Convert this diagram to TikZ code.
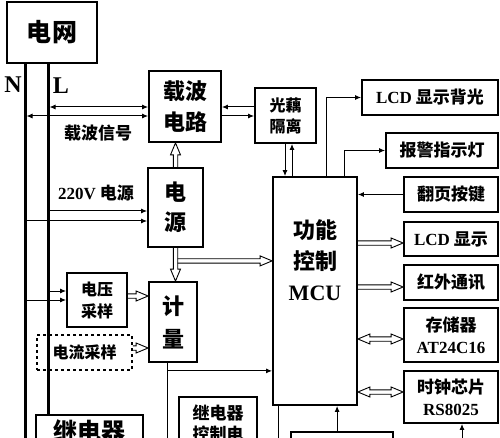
\documentclass[tikz,border=0pt]{standalone}
\usepackage{fontspec}
\setmainfont{Liberation Serif}
\newfontfamily\cjk{Noto Sans CJK SC}
\usetikzlibrary{arrows.meta,calc}
\newcommand\hollowarr[2]{%
  \coordinate (hS) at (#1); \coordinate (hE) at (#2);
  \coordinate (hH) at ($(hE)!12pt!(hS)$);
  \draw[harrow] ($(hS)!2.2pt!90:(hE)$) -- ($(hH)!2.2pt!-90:(hS)$) -- ($(hH)!5pt!-90:(hS)$) -- (hE) -- ($(hH)!5pt!90:(hS)$) -- ($(hH)!2.2pt!90:(hS)$) -- ($(hS)!2.2pt!-90:(hE)$);
}
\newcommand\hollowdbl[2]{%
  \coordinate (hS) at (#1); \coordinate (hE) at (#2);
  \coordinate (hH) at ($(hE)!12pt!(hS)$);
  \coordinate (hG) at ($(hS)!12pt!(hE)$);
  \draw[harrow] (hS) -- ($(hG)!5pt!90:(hE)$) -- ($(hG)!2.2pt!90:(hE)$) -- ($(hH)!2.2pt!-90:(hS)$) -- ($(hH)!5pt!-90:(hS)$) -- (hE) -- ($(hH)!5pt!90:(hS)$) -- ($(hH)!2.2pt!90:(hS)$) -- ($(hG)!2.2pt!-90:(hE)$) -- ($(hG)!5pt!-90:(hE)$) -- cycle;
}
\tikzset{
 box/.style={draw, line width=1.8pt, inner sep=0pt, align=center},
 conn/.style={line width=1pt, -{Latex[length=6pt,width=5pt]}},
 conn2/.style={line width=1pt, {Latex[length=6pt,width=5pt]}-{Latex[length=6pt,width=5pt]}},
 harrow/.style={line width=0.9pt, line join=miter},
 wire/.style={line width=3pt},
 fbig/.style={font=\fontsize{22}{31}\selectfont\cjk\bfseries},
 fmid/.style={font=\fontsize{17}{22}\selectfont\cjk\bfseries},
 fsml/.style={font=\fontsize{16}{21}\selectfont\cjk\bfseries},
}
\begin{document}
\begin{tikzpicture}[x=1pt,y=-1pt]
\useasboundingbox (0,0) rectangle (500,438);
\clip (0,0) rectangle (500,438);
% grid and wires
\node[box, line width=2.6pt, minimum width=90pt, minimum height=61pt, font=\fontsize{25}{30}\selectfont\cjk\bfseries] (grid) at (52,32.5) {电网};
\coordinate (Ntop) at (25,63);
\coordinate (Nbot) at (25,442);
\coordinate (Ltop) at (48,63);
\node[font=\fontsize{24}{24}\selectfont\bfseries] (Nlab) at (13,85) {N};
\node[font=\fontsize{24}{24}\selectfont\bfseries] (Llab) at (61,86) {L};
\node[box, anchor=north, minimum width=107pt, minimum height=60pt, label={[anchor=north, yshift=-2pt, font=\fontsize{24}{28}\selectfont\cjk\bfseries]north:继电器}] (relay) at (89.5,414) {};
\draw[wire] (Ntop) -- (Nbot);
\draw[wire] (Ltop) -- (Ltop |- relay.north);
% boxes
\node[box, minimum width=72pt, minimum height=71pt, fbig] (carrier) at (185,106.5) {载波\\电路};
\node[box, minimum width=61pt, minimum height=55pt, fsml] (opto) at (285.5,115.5) {光藕\\隔离};
\node[box, minimum width=136pt, minimum height=35pt, fmid] (lcdbl) at (430,97.5) {{\rmfamily LCD} 显示背光};
\node[box, minimum width=112pt, minimum height=35pt, fmid] (alarm) at (442,150.5) {报警指示灯};
\node[box, minimum width=94pt, minimum height=35pt, fmid] (page) at (451,194.5) {翻页按键};
\node[box, minimum width=94pt, minimum height=34pt, fmid] (lcd) at (451,239) {{\rmfamily LCD} 显示};
\node[box, minimum width=94pt, minimum height=35pt, fmid] (ir) at (451,282.5) {红外通讯};
\node[box, minimum width=94pt, minimum height=54pt, fmid] (mem) at (451,335) {存储器\\{\rmfamily AT24C16}};
\node[box, minimum width=94pt, minimum height=52pt, fmid] (clock) at (451,397) {时钟芯片\\{\rmfamily RS8025}};
\node[box, minimum width=84pt, minimum height=228pt, label={[fbig, align=center, yshift=31pt]center:{功能\\控制\\{\rmfamily MCU}}}] (mcu) at (315,291) {};
\node[box, minimum width=55pt, minimum height=79pt, font=\fontsize{22}{30}\selectfont\cjk\bfseries] (power) at (175.5,207.5) {电\\源};
\node[box, minimum width=48pt, minimum height=80pt, font=\fontsize{22}{33}\selectfont\cjk\bfseries] (meter) at (173,322) {计\\量};
\node[box, minimum width=60pt, minimum height=54pt, font=\fontsize{16}{22}\selectfont\cjk\bfseries] (vsamp) at (97,300) {电压\\采样};
\node[box, dashed, line width=1.5pt, minimum width=95pt, minimum height=35pt, fsml] (isamp) at (84.5,352.5) {电流采样};
\node[box, anchor=north, minimum width=78pt, minimum height=80pt, label={[anchor=north, yshift=-5pt, align=center, font=\fontsize{17}{21}\selectfont\cjk\bfseries]north:{继电器\\控制电}}] (relayctl) at (218,396) {};
\node[box, anchor=north, minimum width=102pt, minimum height=40pt] (bot) at (342,431) {};
% labels
\node[fmid] (lblcarrier) at (98,133) {载波信号};
\node[fmid] (lbl220) at (96,193) {{\rmfamily 220V} 电源};
% carrier to wires
\coordinate (c1) at ($(carrier.west)+(0,0.5)$);
\coordinate (c2) at ($(carrier.west)+(0,9.5)$);
\draw[conn2, shorten <=1.5pt] (c1 -| Ltop) -- (c1);
\draw[conn2, shorten <=1.5pt] (c2 -| Ntop) -- (c2);
% carrier - opto
\draw[conn] (opto.west |- c1) -- (carrier.east |- c1);
\draw[conn] (carrier.east |- c2) -- (opto.west |- c2);
% opto - mcu
\coordinate (o1) at ($(opto.south)+(-0.5,0)$);
\coordinate (o2) at ($(opto.south)+(6.5,0)$);
\draw[conn] (o1) -- (o1 |- mcu.north);
\draw[conn] (o2 |- mcu.north) -- (o2);
% mcu outputs top
\coordinate (m1) at ($(mcu.north west)+(54,0)$);
\coordinate (m2) at ($(mcu.north west)+(72,0)$);
\draw[conn] (m1) |- (lcdbl.west);
\draw[conn] (m2) |- (alarm.west);
\draw[conn] (page.west) -- (page.west -| mcu.east);
% hollow to right
\coordinate (r1) at ($(lcd.west)+(0,4)$);
\coordinate (r2) at ($(ir.west)+(0,4.5)$);
\coordinate (r3) at ($(mem.west)+(0,4)$);
\coordinate (r4) at ($(clock.west)+(0,-5)$);
\hollowarr{r1 -| mcu.east}{r1}
\hollowarr{r2 -| mcu.east}{r2}
\hollowdbl{r3 -| mcu.east}{r3}
\hollowdbl{r4 -| mcu.east}{r4}
% power
\hollowarr{power.north}{power.north |- carrier.south}
\hollowarr{power.south}{power.south |- meter.north}
\coordinate (p1) at ($(power.south)+(2.2,13)$);
\hollowarr{p1}{p1 -| mcu.west}
\coordinate (v1) at ($(power.west)+(0,3.5)$);
\coordinate (v2) at ($(power.west)+(0,13.5)$);
\draw[conn, shorten <=1.5pt] (v1 -| Ltop) -- (v1);
\draw[conn, shorten <=1.5pt] (v2 -| Ntop) -- (v2);
% sampling
\coordinate (s1) at ($(vsamp.west)+(0,-9)$);
\draw[conn, shorten <=1.5pt] (s1 -| Ltop) -- (s1);
\draw[conn, shorten <=1.5pt] (vsamp.west -| Ntop) -- (vsamp.west);
\coordinate (s3) at ($(vsamp.east)+(0,-4)$);
\coordinate (s4) at ($(isamp.east)+(0,-4.5)$);
\hollowarr{s3}{s3 -| meter.west}
\hollowarr{s4}{s4 -| meter.west}
% meter bottom
\coordinate (t1) at ($(meter.south)+(-6,0)$);
\coordinate (t2) at ($(meter.south)+(-6,8)$);
\draw[line width=1pt] (t1) -- (t1 |- Nbot);
\draw[conn] (t2) -- (t2 -| mcu.west);
% mcu bottom
\coordinate (u1) at ($(mcu.south west)+(6,0)$);
\coordinate (u2) at ($(mcu.south west)+(65,0)$);
\draw[line width=1pt] (u1) -- (u1 |- Nbot);
\draw[conn] (u2 |- bot.north) -- (u2);
\coordinate (k1) at ($(clock.south)+(11,0)$);
\draw[conn] (k1 |- Nbot) -- (k1);
\end{tikzpicture}
\end{document}
